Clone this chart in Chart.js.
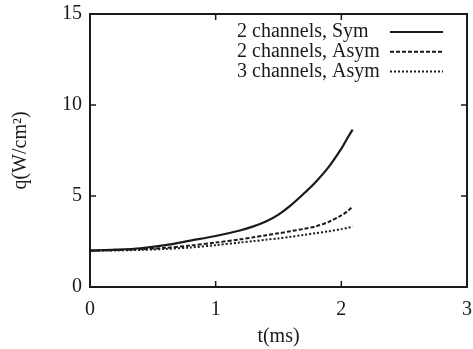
<!DOCTYPE html>
<html>
<head>
<meta charset="utf-8">
<script src="https://cdn.jsdelivr.net/npm/chart.js@4"></script>
<style>
  html, body { margin: 0; padding: 0; background: #fff; }
  #wrap { width: 473px; height: 349px; }
</style>
</head>
<body>
<div id="wrap"><canvas id="qChart" width="473" height="349"></canvas></div>
<script>
// time (ms) and heat flux q (W/cm^2)
const times = [0, 0.2, 0.4, 0.6, 0.8, 1.0, 1.2, 1.3, 1.4, 1.5, 1.6, 1.7, 1.8, 1.9, 2.0, 2.05, 2.09];
const sym2 = [2.0, 2.05, 2.13, 2.3, 2.55, 2.8, 3.12, 3.33, 3.6, 3.98, 4.5, 5.12, 5.8, 6.6, 7.6, 8.2, 8.65];
const asym2 = [2.0, 2.03, 2.08, 2.15, 2.28, 2.44, 2.62, 2.73, 2.84, 2.95, 3.07, 3.19, 3.34, 3.58, 3.93, 4.17, 4.42];
const asym3 = [2.0, 2.01, 2.04, 2.09, 2.17, 2.3, 2.45, 2.52, 2.6, 2.67, 2.76, 2.86, 2.96, 3.06, 3.18, 3.25, 3.32];
const seriesNames = ['2 channels, Sym', '2 channels, Asym', '3 channels, Asym'];
const xTicks = [0, 1, 2, 3];
const yTicks = [0, 5, 10, 15];

const fontFam = '"Liberation Serif", "Times New Roman", serif';
const ink = '#1a1a1a';

function pts(vals) {
    return times.map((t, i) => ({ x: t, y: vals[i] }));
}

const dashes = [[], [4, 2], [2, 2]];

// frame with inward ticks + legend in the upper right
const framePlugin = {
    id: 'frame',
    afterDraw(chart) {
        const { ctx, chartArea: a, scales } = chart;
        ctx.save();
        ctx.strokeStyle = ink;
        ctx.lineWidth = 2;
        ctx.strokeRect(a.left, a.top, a.right - a.left, a.bottom - a.top);
        ctx.lineWidth = 1.5;
        const tl = 6;
        xTicks.slice(1, -1).forEach(v => {
            const px = scales.x.getPixelForValue(v);
            ctx.beginPath();
            ctx.moveTo(px, a.bottom); ctx.lineTo(px, a.bottom - tl);
            ctx.moveTo(px, a.top); ctx.lineTo(px, a.top + tl);
            ctx.stroke();
        });
        yTicks.slice(1, -1).forEach(v => {
            const py = scales.y.getPixelForValue(v);
            ctx.beginPath();
            ctx.moveTo(a.left, py); ctx.lineTo(a.left + tl, py);
            ctx.moveTo(a.right, py); ctx.lineTo(a.right - tl, py);
            ctx.stroke();
        });

        // legend
        ctx.font = '20px ' + fontFam;
        ctx.fillStyle = ink;
        ctx.textBaseline = 'middle';
        ctx.textAlign = 'left';
        chart.data.datasets.forEach((ds, i) => {
            const y = 32 + i * 19.7;
            ctx.fillText(ds.label, 237, y);
            ctx.beginPath();
            ctx.lineWidth = ds.borderWidth;
            ctx.setLineDash(ds.borderDash);
            ctx.moveTo(390, y); ctx.lineTo(443, y);
            ctx.stroke();
        });
        ctx.restore();
    }
};

new Chart(document.getElementById('qChart').getContext('2d'), {
    type: 'line',
    data: {
        datasets: [sym2, asym2, asym3].map((vals, i) => ({
            label: seriesNames[i],
            data: pts(vals),
            borderColor: ink,
            borderWidth: i === 0 ? 2.2 : 2,
            borderDash: dashes[i],
            pointRadius: 0,
            tension: 0.3,
            fill: false
        }))
    },
    options: {
        responsive: false,
        animation: false,
        layout: { padding: { top: 14, right: 6, left: 0, bottom: 0 } },
        plugins: { legend: { display: false }, tooltip: { enabled: false } },
        scales: {
            x: {
                type: 'linear',
                min: 0, max: 3,
                afterBuildTicks: s => { s.ticks = xTicks.map(v => ({ value: v })); },
                afterFit: s => { s.height = 62; s.paddingLeft = 0; s.paddingRight = 0; },
                grid: { display: false, drawTicks: false },
                border: { display: false },
                ticks: { color: ink, font: { family: fontFam, size: 20 }, padding: 11, maxRotation: 0 },
                title: { display: true, text: 't(ms)', color: ink, font: { family: fontFam, size: 20, lineHeight: 1.2 }, padding: { top: 0, bottom: 0 } }
            },
            y: {
                min: 0, max: 15,
                afterBuildTicks: s => { s.ticks = yTicks.map(v => ({ value: v })); },
                afterFit: s => { s.width = 90; s.paddingTop = 0; s.paddingBottom = 0; },
                grid: { display: false, drawTicks: false },
                border: { display: false },
                ticks: { color: ink, font: { family: fontFam, size: 20 }, padding: 8 },
                title: { display: true, text: 'q(W/cm²)', color: ink, font: { family: fontFam, size: 20, lineHeight: 1.2 }, padding: { top: 9, bottom: 0 } }
            }
        }
    },
    plugins: [framePlugin]
});
</script>
</body>
</html>
